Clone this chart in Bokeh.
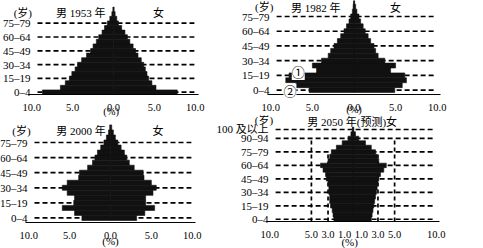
from bokeh.plotting import figure
from bokeh.layouts import row, column
from bokeh.models import ColumnDataSource, FixedTicker, CustomJSTickFormatter, Label, Range1d
from bokeh.embed import file_html
from bokeh.resources import INLINE

# ---------------- data (percent of population, 5-year age groups) ----------------
GROUP = 5
ages_std = list(range(0, 95, 5))      # 0-4 ... 90+
ages_2050 = list(range(0, 105, 5))    # 0-4 ... 100+

male_1953 = [8.7, 6.5, 5.9, 5.4, 5.1, 4.7, 4.4, 3.9, 3.3, 2.8, 2.5, 2.1, 1.8, 1.4, 1.1, 0.75, 0.45, 0.2, 0.08]
female_1953 = [7.8, 5.2, 4.7, 4.3, 4.1, 3.9, 3.7, 3.4, 3.0, 2.7, 2.4, 2.0, 1.7, 1.4, 1.0, 0.6, 0.4, 0.2, 0.08]

male_1982 = [5.4, 7.0, 8.2, 7.8, 4.5, 5.0, 3.9, 3.1, 2.8, 2.4, 2.0, 1.6, 1.2, 0.9, 0.6, 0.4, 0.2, 0.1, 0.04]
female_1982 = [4.9, 5.8, 6.3, 6.1, 4.4, 5.0, 3.7, 2.9, 2.6, 2.4, 2.0, 1.7, 1.35, 1.1, 0.8, 0.6, 0.35, 0.2, 0.08]

male_2000 = [3.5, 4.4, 5.9, 4.5, 4.4, 5.3, 5.9, 5.3, 3.9, 3.8, 2.8, 2.2, 1.9, 1.6, 1.2, 0.8, 0.5, 0.25, 0.1]
female_2000 = [3.2, 4.2, 5.4, 4.3, 4.3, 5.2, 5.6, 5.0, 4.1, 4.0, 2.9, 2.3, 2.0, 1.7, 1.3, 0.9, 0.6, 0.35, 0.15]

male_2050 = [2.3, 2.4, 2.5, 2.7, 2.8, 2.8, 2.9, 2.9, 3.0, 3.2, 3.3, 3.6, 3.9, 3.0, 2.8, 2.6, 2.0, 1.3, 0.6, 0.25, 0.08]
female_2050 = [2.2, 2.3, 2.4, 2.5, 2.6, 2.7, 2.8, 2.9, 3.0, 3.1, 3.3, 3.7, 4.0, 3.1, 2.9, 2.7, 2.2, 1.5, 0.7, 0.3, 0.1]

tick_ages_std = [0, 15, 30, 45, 60, 75]
tick_labels_std = ["0–4", "15–19", "30–34", "45–49", "60–64", "75–79"]
tick_ages_2050 = [0, 15, 30, 45, 60, 75, 90, 100]
tick_labels_2050 = ["0–4", "15–19", "30–34", "45–49", "60–64", "75–79", "90–94", "100 及以上"]

x_ticks_std = [-10, -5, 0, 5, 10]
x_ticks_2050 = [-10, -5, -3, -1, 1, 3, 5, 10]

guide_pct_2050 = [3.0, 5.0]          # dashed reference frames in 2050 panel
guide_top_age_2050 = [75, 90]        # they reach up to these age groups

titles = ["男 1953 年", "男 1982 年", "男 2000 年", "男 2050 年(预测)女"]

# ---------------- styling ----------------
FONT = "Liberation Serif, Noto Sans CJK SC"
BAR = "#111111"


def make_panel(width, height, geom, ages, male, female,
               tick_ages, tick_labels, x_ticks, texts):
    # geom: centre pixel of x=0, px per %, pixel row of age origin, px per year, origin age
    cx, sx, ay, sy, y0 = geom
    p = figure(width=width, height=height,
               x_range=Range1d(-cx / sx, (width - cx) / sx),
               y_range=Range1d(y0 - (height - ay) / sy, y0 + ay / sy),
               output_backend="svg", toolbar_location=None,
               min_border_left=0, min_border_right=0,
               min_border_top=0, min_border_bottom=0,
               background_fill_color="white", border_fill_color="white")
    p.grid.visible = False
    p.outline_line_color = None

    centers = [a + GROUP / 2 for a in tick_ages]
    p.segment(x0=-9.3, x1=9.9, y0=centers, y1=centers,
              line_dash="5 3", line_width=1.7, line_color="black")

    src = ColumnDataSource(dict(y=[a + GROUP / 2 for a in ages],
                                m=[-v for v in male], f=female))
    p.hbar(y="y", left="m", right=0, height=GROUP, source=src,
           fill_color=BAR, line_color=BAR, line_width=0.6)
    p.hbar(y="y", left=0, right="f", height=GROUP, source=src,
           fill_color=BAR, line_color=BAR, line_width=0.6)

    xa = p.xaxis[0]
    xa.fixed_location = y0
    xa.bounds = (-10.4, 10.4)
    xa.ticker = FixedTicker(ticks=x_ticks)
    xa.formatter = CustomJSTickFormatter(code="return Math.abs(tick).toFixed(1);")
    xa.major_tick_line_color = None
    xa.minor_tick_line_color = None
    xa.major_label_standoff = 3
    xa.major_label_text_font = FONT
    xa.major_label_text_font_size = "10.5px"
    xa.major_label_text_color = "black"
    xa.axis_line_color = "black"
    xa.axis_line_width = 1.2

    ya = p.yaxis[0]
    ya.fixed_location = -9.3
    ya.ticker = FixedTicker(ticks=centers)
    ya.formatter = CustomJSTickFormatter(
        args=dict(pos=centers, labs=tick_labels),
        code="const i = pos.indexOf(tick); return i < 0 ? '' : labs[i];")
    ya.axis_line_color = None
    ya.major_tick_line_color = None
    ya.minor_tick_line_color = None
    ya.major_label_standoff = 1
    ya.major_label_text_font = FONT
    ya.major_label_text_font_size = "11px"
    ya.major_label_text_color = "black"

    for t in texts:
        txt, x, y, size = t[:4]
        kw = {}
        if len(t) > 4:
            kw["background_fill_color"] = t[4]
        p.add_layout(Label(x=x, y=y, text=txt, text_align="center",
                           text_baseline="middle", text_font=FONT,
                           text_font_size=size, text_color="black", **kw))
    return p


p1 = make_panel(216, 117, (113, 8.17, 94, 0.92, 0), ages_std, male_1953, female_1953,
                tick_ages_std, tick_labels_std, x_ticks_std,
                [("(岁)", -11.1, 89, "11px"), (titles[0], -4.0, 89, "11px"),
                 ("女", 5.5, 89, "11px"), ("(%)", -0.3, -18.0, "10.5px")])

p3 = make_panel(216, 131, (110, 8.17, 105, 1.006, -2), ages_std, male_2000, female_2000,
                tick_ages_std, tick_labels_std, x_ticks_std,
                [("(岁)", -10.9, 88.5, "11px"), (titles[2], -3.6, 88.5, "11px"),
                 ("女", 5.8, 88.5, "11px"), ("(%)", 0.0, -19.9, "11px")])

p2 = make_panel(267, 115, (137.5, 8.32, 94, 0.981, -2), ages_std, male_1982, female_1982,
                tick_ages_std, tick_labels_std, x_ticks_std,
                [("(岁)", -10.8, 86.7, "11px"), (titles[1], -4.6, 85.7, "11px"),
                 ("女", 5.0, 85.7, "11px"), ("(%)", 0.0, -17.2, "10.5px"),
                 ("①", -6.7, 20.5, "13px", "white"), ("②", -7.7, 1.5, "13px", "white")])

p4 = make_panel(267, 133, (136.5, 8.32, 106, 0.8976, 0), ages_2050, male_2050, female_2050,
                tick_ages_2050, tick_labels_2050, x_ticks_2050,
                [("(岁)", -10.7, 113.0, "11px"), (titles[3], -0.1, 110.6, "11px"),
                 ("(%)", -0.4, -22.3, "11px")])

# dashed reference frames of the 2050 panel
gx, gtop = [], []
for pct, a in zip(guide_pct_2050, guide_top_age_2050):
    gx += [-pct, pct]
    gtop += [a + GROUP / 2] * 2
p4.segment(x0=gx, x1=gx, y0=0, y1=gtop, line_dash="4 3", line_width=1.7, line_color="black")
p4.renderers.insert(0, p4.renderers.pop())

layout = row(column(p1, p3), column(p2, p4))

open("out.html", "w").write(file_html(layout, INLINE))
